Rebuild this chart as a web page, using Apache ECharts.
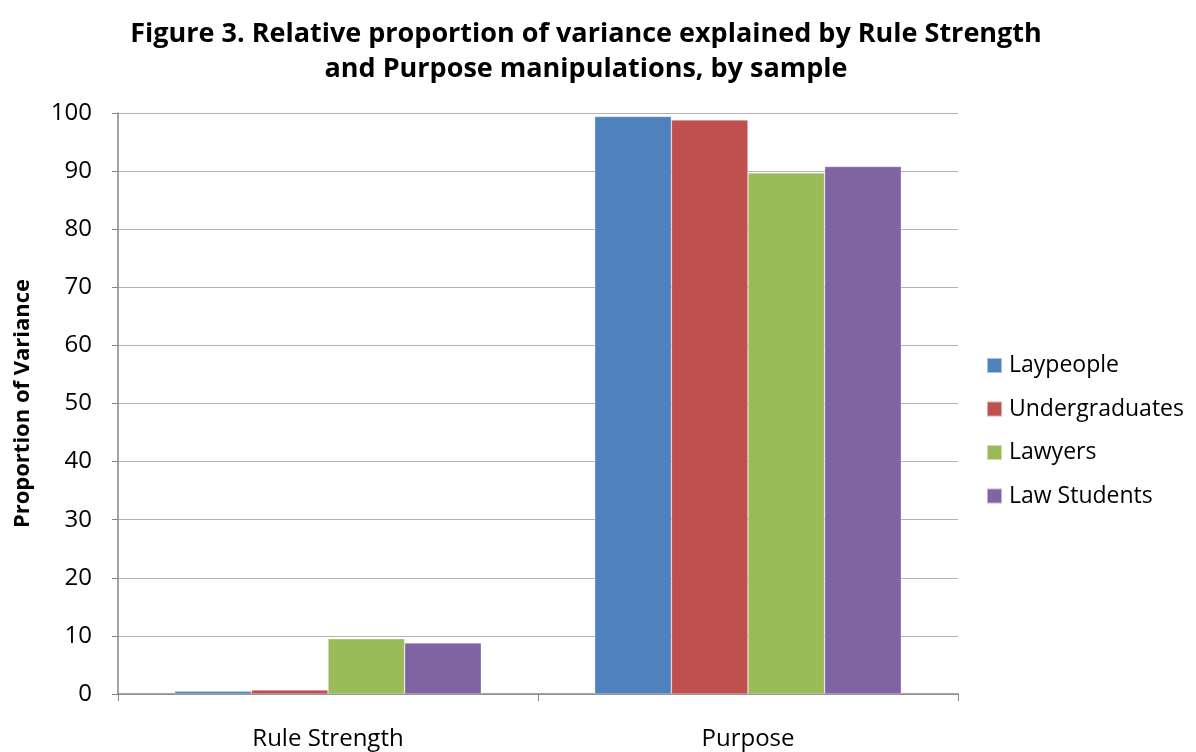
<!DOCTYPE html>
<html>
<head>
<meta charset="utf-8">
<script src="https://cdn.jsdelivr.net/npm/echarts@6/dist/echarts.min.js"></script>
<style>
  html, body { margin: 0; padding: 0; background: #fff; }
  #chart { width: 1196px; height: 752px; }
</style>
</head>
<body>
<div id="chart"></div>
<script>
// Manipulations on the x axis
const categories = ['Rule Strength', 'Purpose'];

// Proportion of variance explained, per sample
const laypeople = [0.5, 99.4];
const undergraduates = [0.7, 98.8];
const lawyers = [9.5, 89.7];
const lawStudents = [8.8, 90.8];

const seriesNames = ['Laypeople', 'Undergraduates', 'Lawyers', 'Law Students'];
const seriesValues = [laypeople, undergraduates, lawyers, lawStudents];
const colors = ['#4F81BD', '#C0504D', '#9BBB59', '#8064A2'];

const font = '"Open Sans", "Liberation Sans", sans-serif';

const chart = echarts.init(document.getElementById('chart'));
chart.setOption({
  animation: false,
  color: colors,
  title: {
    text: 'Figure 3. Relative proportion of variance explained by Rule Strength\nand Purpose manipulations, by sample',
    left: 581,
    top: 12,
    textAlign: 'center',
    textStyle: { fontFamily: font, fontWeight: 'bold', fontSize: 27, lineHeight: 35, color: '#000' }
  },
  legend: {
    orient: 'vertical',
    left: 981,
    top: 349,
    itemWidth: 15,
    itemHeight: 15,
    itemGap: 20.5,
    icon: 'rect',
    textStyle: { fontFamily: font, fontSize: 23, color: '#000', padding: [0, 0, 0, 2] },
    data: seriesNames
  },
  grid: { left: 118, right: 238, top: 113, bottom: 58 },
  xAxis: {
    type: 'category',
    data: categories,
    axisLine: { lineStyle: { color: '#868686', width: 1.5 } },
    axisTick: { show: true, length: 7, lineStyle: { color: '#868686' } },
    axisLabel: { fontFamily: font, fontSize: 24, color: '#000', margin: 33 }
  },
  yAxis: {
    type: 'value',
    min: 0,
    max: 100,
    interval: 10,
    name: 'Proportion of Variance',
    nameLocation: 'middle',
    nameGap: 84,
    nameTextStyle: { fontFamily: font, fontWeight: 'bold', fontSize: 22, color: '#000' },
    axisLine: { show: true, lineStyle: { color: '#868686', width: 1.5 } },
    axisTick: { show: true, length: 6, lineStyle: { color: '#868686' } },
    axisLabel: { fontFamily: font, fontSize: 24, color: '#000', margin: 26 },
    splitLine: { lineStyle: { color: '#B3B3B3', width: 1.2 } }
  },
  series: seriesNames.map((name, i) => ({
    name,
    type: 'bar',
    data: seriesValues[i],
    barGap: '0%',
    barCategoryGap: '27%',
    itemStyle: { borderColor: 'rgba(255,255,255,0.5)', borderWidth: 0.6 }
  }))
});
</script>
</body>
</html>
